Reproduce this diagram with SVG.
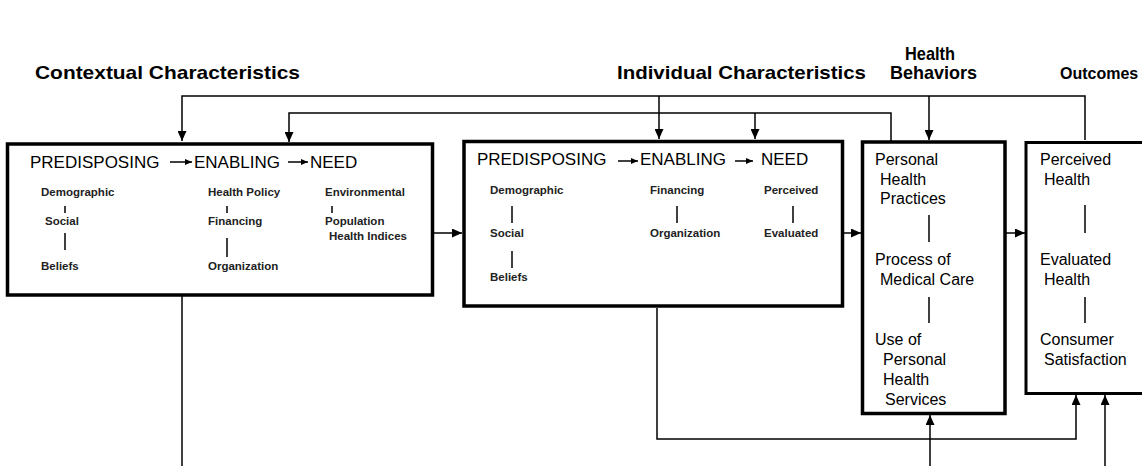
<svg xmlns="http://www.w3.org/2000/svg" width="1142" height="466" viewBox="0 0 1142 466">
  <defs>
    <marker id="ah" markerUnits="userSpaceOnUse" markerWidth="10" markerHeight="9" refX="10" refY="4.5" orient="auto">
      <path d="M0,0 L10,4.5 L0,9 z" fill="#000"/>
    </marker>
    <marker id="ahs" markerUnits="userSpaceOnUse" markerWidth="7" markerHeight="6" refX="7" refY="3" orient="auto">
      <path d="M0,0 L7,3 L0,6 z" fill="#000"/>
    </marker>
    <style>
      .box { fill: #fff; stroke: #000; stroke-width: 3.5; }
      .conn { fill: none; stroke: #000; stroke-width: 1.5; }
      .tick { stroke: #000; stroke-width: 1.5; }
      .hdr { font-family: "Liberation Sans Narrow", "Liberation Sans", Arial, sans-serif; font-size: 19px; font-weight: bold; fill: #000; }
      .cat { font-family: "Liberation Sans", Arial, sans-serif; font-size: 17px; fill: #000; }
      .sm { font-family: "Liberation Sans", Arial, sans-serif; font-size: 11.5px; font-weight: bold; fill: #222; }
      .md { font-family: "Liberation Sans", Arial, sans-serif; font-size: 16px; fill: #000; }
      .ia { stroke: #000; stroke-width: 1.5; marker-end: url(#ahs); }
    </style>
  </defs>

  <g id="headers">
    <text class="hdr" x="35" y="79" textLength="265" lengthAdjust="spacingAndGlyphs">Contextual Characteristics</text>
    <text class="hdr" x="617" y="79" textLength="249" lengthAdjust="spacingAndGlyphs">Individual Characteristics</text>
    <text class="hdr" x="905" y="60" textLength="50" lengthAdjust="spacingAndGlyphs">Health</text>
    <text class="hdr" x="890" y="79" textLength="87" lengthAdjust="spacingAndGlyphs">Behaviors</text>
    <text class="hdr" x="1060" y="79" style="font-size:16px">Outcomes</text>
  </g>

  <g id="connectors">
    <path class="conn" d="M1085,140 V96 H182 V141" marker-end="url(#ah)"/>
    <path class="conn" d="M659,96 V139" marker-end="url(#ah)"/>
    <path class="conn" d="M929,96 V140" marker-end="url(#ah)"/>
    <path class="conn" d="M891,141 V113 H289 V142" marker-end="url(#ah)"/>
    <path class="conn" d="M755,113 V139" marker-end="url(#ah)"/>
    <path class="conn" d="M434,233 H462" marker-end="url(#ah)"/>
    <path class="conn" d="M844,233 H861" marker-end="url(#ah)"/>
    <path class="conn" d="M1006,233 H1025" marker-end="url(#ah)"/>
    <path class="conn" d="M182,296 V466"/>
    <path class="conn" d="M657,308 V439 H1076 V395" marker-end="url(#ah)"/>
    <path class="conn" d="M930,466 V415" marker-end="url(#ah)"/>
    <path class="conn" d="M1105,466 V395" marker-end="url(#ah)"/>
  </g>

  <g id="contextual">
    <rect class="box" x="7.5" y="144" width="425" height="151"/>
    <text class="cat" x="30" y="168">PREDISPOSING</text>
    <line class="ia" x1="170" y1="162" x2="192" y2="162"/>
    <text class="cat" x="194" y="168">ENABLING</text>
    <line class="ia" x1="288" y1="162" x2="308" y2="162"/>
    <text class="cat" x="310" y="168">NEED</text>
    <text class="sm" x="41" y="196">Demographic</text>
    <line class="tick" x1="65" y1="206" x2="65" y2="213"/>
    <text class="sm" x="45" y="225">Social</text>
    <line class="tick" x1="65" y1="233" x2="65" y2="250"/>
    <text class="sm" x="41" y="270">Beliefs</text>
    <text class="sm" x="208" y="196">Health Policy</text>
    <line class="tick" x1="227" y1="206" x2="227" y2="213"/>
    <text class="sm" x="208" y="225">Financing</text>
    <line class="tick" x1="227" y1="238" x2="227" y2="257"/>
    <text class="sm" x="208" y="270">Organization</text>
    <text class="sm" x="325" y="196">Environmental</text>
    <line class="tick" x1="332" y1="206" x2="332" y2="213"/>
    <text class="sm" x="325" y="225">Population</text>
    <text class="sm" x="329" y="240">Health Indices</text>
  </g>

  <g id="individual">
    <rect class="box" x="464" y="141.5" width="378.5" height="164.5"/>
    <text class="cat" x="477" y="165">PREDISPOSING</text>
    <line class="ia" x1="618" y1="161" x2="638" y2="161"/>
    <text class="cat" x="640" y="165">ENABLING</text>
    <line class="ia" x1="735" y1="161" x2="753" y2="161"/>
    <text class="cat" x="761" y="165">NEED</text>
    <text class="sm" x="490" y="194">Demographic</text>
    <line class="tick" x1="512" y1="206" x2="512" y2="223"/>
    <text class="sm" x="490" y="237">Social</text>
    <line class="tick" x1="512" y1="251" x2="512" y2="268"/>
    <text class="sm" x="490" y="281">Beliefs</text>
    <text class="sm" x="650" y="194">Financing</text>
    <line class="tick" x1="677" y1="206" x2="677" y2="223"/>
    <text class="sm" x="650" y="237">Organization</text>
    <text class="sm" x="764" y="194">Perceived</text>
    <line class="tick" x1="793" y1="206" x2="793" y2="223"/>
    <text class="sm" x="764" y="237">Evaluated</text>
  </g>

  <g id="behaviors">
    <rect class="box" x="862.5" y="142" width="142.5" height="271.5"/>
    <text class="md" x="875" y="165">Personal</text>
    <text class="md" x="880" y="185">Health</text>
    <text class="md" x="880" y="204">Practices</text>
    <line class="tick" x1="929" y1="215" x2="929" y2="242"/>
    <text class="md" x="875" y="265">Process of</text>
    <text class="md" x="880" y="285">Medical Care</text>
    <line class="tick" x1="929" y1="297" x2="929" y2="323"/>
    <text class="md" x="875" y="345">Use of</text>
    <text class="md" x="883" y="365">Personal</text>
    <text class="md" x="883" y="385">Health</text>
    <text class="md" x="885" y="405">Services</text>
  </g>

  <g id="outcomes">
    <rect class="box" x="1026" y="142.5" width="130" height="251" style="stroke-width:3"/>
    <text class="md" x="1040" y="165">Perceived</text>
    <text class="md" x="1044" y="185">Health</text>
    <line class="tick" x1="1085" y1="205" x2="1085" y2="233"/>
    <text class="md" x="1040" y="265">Evaluated</text>
    <text class="md" x="1044" y="285">Health</text>
    <line class="tick" x1="1085" y1="297" x2="1085" y2="323"/>
    <text class="md" x="1040" y="345">Consumer</text>
    <text class="md" x="1044" y="365">Satisfaction</text>
  </g>
</svg>
